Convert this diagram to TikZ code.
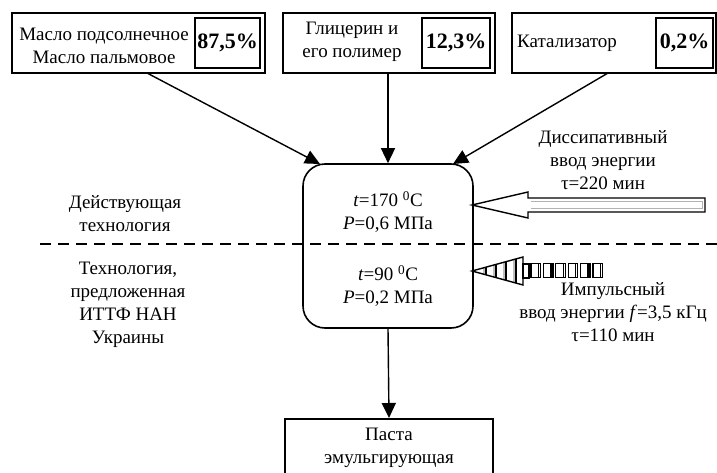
\documentclass[tikz,border=0pt]{standalone}
\usepackage{fontspec}
\setmainfont{Liberation Serif}
\usetikzlibrary{arrows.meta}
\begin{document}
\begin{tikzpicture}[x=1pt,y=-1pt,
  box/.style={draw,line width=1.6pt,inner sep=0pt},
  pbox/.style={draw,line width=1.6pt,inner sep=0pt,font=\fontsize{22}{24}\selectfont\bfseries},
  txt/.style={align=center,font=\fontsize{19}{23}\selectfont,inner sep=0pt},
  arr/.style={line width=1.4pt,-{Triangle[length=15pt,width=14pt]}},
]
\useasboundingbox (0,0) rectangle (717,473);
% top boxes
\node[box,minimum width=253pt,minimum height=60pt] (b1) at (138.5,43) {};
\node[pbox,minimum width=65pt,minimum height=50pt] (p1) at (227.5,43) {87,5\%};
\node[txt] (t1) at (104,46) {Масло подсолнечное\\Масло пальмовое};
\node[box,minimum width=212pt,minimum height=60pt] (b2) at (389,43) {};
\node[pbox,minimum width=68pt,minimum height=50pt] (p2) at (456,43) {12,3\%};
\node[txt] (t2) at (352,42) {Глицерин и\\его полимер};
\node[box,minimum width=204pt,minimum height=60pt] (b3) at (614,43) {};
\node[pbox,minimum width=57pt,minimum height=50pt] (p3) at (684.5,43) {0,2\%};
\node[txt] (t3) at (567,43) {Катализатор};
% central reactor
\node[draw,line width=1.6pt,rounded corners=22pt,minimum width=170pt,minimum height=164pt] (c) at (388,246) {};
\node[txt] (c1) at (388,212) {\textit{t}=170 \textsuperscript{0}C\\\textit{P}=0,6 МПа};
\node[txt] (c2) at (388,286) {\textit{t}=90 \textsuperscript{0}C\\\textit{P}=0,2 МПа};
% output
\node[box,minimum width=208pt,minimum height=70pt,anchor=north] (o) at (389,418) {};
\node[txt] (ot) at (389,448) {Паста\\эмульгирующая};
% connectors
\coordinate (s1) at (147,73);
\coordinate (e1) at (320,164);
\coordinate (s3) at (608,73);
\coordinate (e3) at (453,164);
\draw[arr] (s1) -- (e1);
\draw[arr] (b2.south -| c.north) -- (c.north);
\draw[arr] (s3) -- (e3);
\draw[arr] (c.south) -- (o.north);
% dashed divider
\coordinate (d1) at (40,244);
\coordinate (d2) at (717,244);
\draw[line width=2.2pt,dash pattern=on 11pt off 7pt] (d1) -- (d2);
% side labels
\node[txt] (l1) at (125,214) {Действующая\\технология};
\node[txt] (l2) at (128,305) {Технология,\\предложенная\\ИТТФ НАН\\Украины};
% dissipative arrow
\node[txt] (r1) at (603,160) {Диссипативный\\ввод энергии\\τ=220 мин};
\coordinate (dt) at (472,205);
\draw[line width=1.4pt,fill=white,line join=miter] (dt) -- (528,192) -- (528,198) -- (705,198) -- (705,212) -- (528,212) -- (528,218) -- cycle;
\draw[line width=0.6pt,gray!60] (531,201.5) -- (702,201.5) -- (702,208.5) -- (531,208.5);
% impulse arrow
\coordinate (it) at (472,271);
\begin{scope}
\clip (it) -- (523,257) -- (523,285) -- cycle;
\foreach \xx in {486,496,506,516} {
  \fill[gray!50] (\xx-3,250) rectangle (\xx,292);
  \draw[line width=1.2pt] (\xx,250) -- (\xx,292);
}
\end{scope}
\draw[line width=1.4pt,line join=miter] (it) -- (523,257) -- (523,285) -- cycle;
\draw[line width=1.4pt,fill=white] (523,264) rectangle (529,278);
\foreach \i in {0,...,5} {
  \draw[line width=1.3pt,fill=white] (531+\i*12.4,263.5) rectangle (540.5+\i*12.4,277.5);
  \draw[line width=1.4pt] (538.5+\i*12.4,263.5) -- (538.5+\i*12.4,277.5);
}
\node[txt] (r2) at (613,312) {Импульсный\\ввод энергии \textit{f}=3,5 кГц\\τ=110 мин};
\end{tikzpicture}
\end{document}
